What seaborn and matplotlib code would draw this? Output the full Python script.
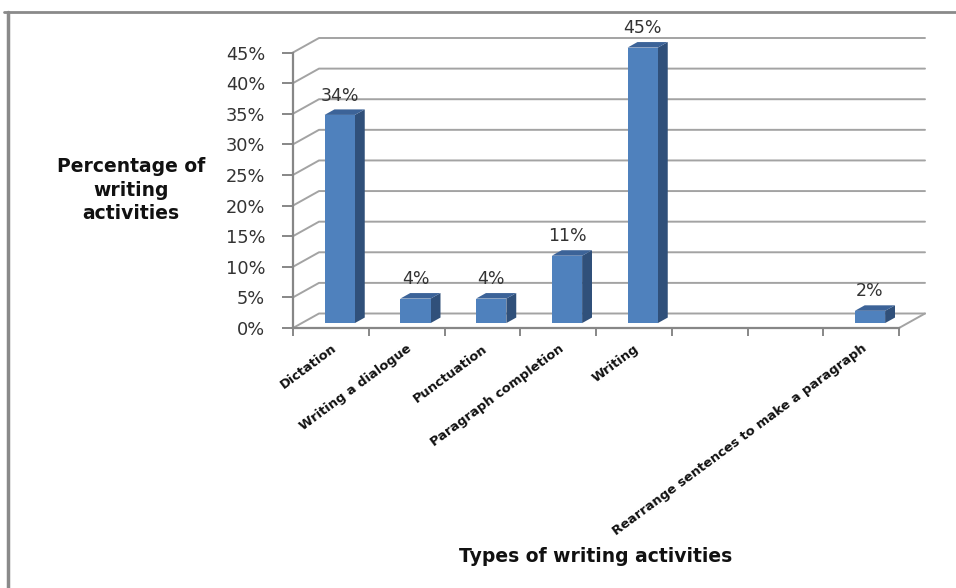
import numpy as np
import pandas as pd
import matplotlib
matplotlib.use("Agg")
import matplotlib.pyplot as plt
import seaborn as sns
from matplotlib.patches import Polygon
from matplotlib.lines import Line2D

# ---- data ----
categories = ["Dictation", "Writing a dialogue", "Punctuation", "Paragraph completion",
              "Writing", "", "", "Rearrange sentences to make a paragraph"]
values = [34, 4, 4, 11, 45, None, None, 2]
y_ticks = [0, 5, 10, 15, 20, 25, 30, 35, 40, 45]
y_tick_labels = [f"{t}%" for t in y_ticks]
x_title = "Types of writing activities"
y_title = "Percentage of\nwriting\nactivities"

# ---- style ----
sns.set_theme(style="white")
plt.rcParams["font.family"] = ["DejaVu Sans"]

FRONT = "#4F81BD"
SIDE = "#30507A"
TOP = "#3C6398"
AXIS_C = "#878787"
GRID_C = "#A3A3A3"

W, H = 956, 588
fig = plt.figure(figsize=(W / 100, H / 100), dpi=100)
fig.patch.set_facecolor("white")
ax = fig.add_axes([293 / W, (H - 328) / H, 606 / W, 275.5 / H])

n = len(categories)
df = pd.DataFrame({"pos": np.arange(n), "value": values}).dropna()

sns.barplot(data=df, x="pos", y="value", native_scale=True, width=0.4,
            color=FRONT, saturation=1, linewidth=0, ax=ax, zorder=4)
bars = list(ax.patches)

ax.set_xlim(-0.5, n - 0.5)
ax.set_ylim(0, 45)
ax.set_xlabel("")
ax.set_ylabel("")

# depth of the 3-D wall in data units
px_x = 606 / n
px_y = 275.5 / 45
DX = 26 / px_x
DY = 14.5 / px_y
F_FRONT = 0.34   # where bar front sits in depth
F_DEPTH = 0.38   # bar depth

# back wall gridlines with slanted connectors
for t in y_ticks:
    ax.plot([-0.5, -0.5 + DX, n - 0.5 + DX], [t, t + DY, t + DY],
            color=GRID_C, lw=1.4, clip_on=False, zorder=1)
ax.plot([n - 0.5, n - 0.5 + DX], [0, DY], color=GRID_C, lw=1.4,
        clip_on=False, zorder=1)

# 3-D bars
for p, v in zip(bars, df["value"]):
    x0 = p.get_x() + F_FRONT * DX
    b = F_FRONT * DY
    w = p.get_width()
    p.set_x(x0)
    p.set_y(b)
    p.set_clip_on(False)
    x1 = x0 + w
    t = b + v
    dx, dy = F_DEPTH * DX, F_DEPTH * DY
    ax.add_patch(Polygon([(x1, b), (x1, t), (x1 + dx, t + dy), (x1 + dx, b + dy)],
                         closed=True, facecolor=SIDE, edgecolor="none",
                         zorder=3, clip_on=False))
    ax.add_patch(Polygon([(x0, t), (x1, t), (x1 + dx, t + dy), (x0 + dx, t + dy)],
                         closed=True, facecolor=TOP, edgecolor="none",
                         zorder=5, clip_on=False))
    ax.annotate(f"{v:g}%", (x0 + w / 2, t + dy), xytext=(0, 10),
                textcoords="offset points", ha="center", va="center",
                fontsize=12.5, color="#333333", annotation_clip=False)

# spines & ticks
for s in ["top", "right"]:
    ax.spines[s].set_visible(False)
for s in ["left", "bottom"]:
    ax.spines[s].set_color(AXIS_C)
    ax.spines[s].set_linewidth(1.6)
    ax.spines[s].set_zorder(2)

ax.set_yticks(y_ticks)
ax.set_yticklabels(y_tick_labels)
ax.tick_params(axis="y", direction="out", length=8, width=1.4, color=AXIS_C,
               pad=12, labelsize=12.8, labelcolor="#333333", left=True)

ax.set_xticks(np.arange(-0.5, n, 1.0))
ax.set_xticklabels([])
ax.set_xticks(np.arange(n), minor=True)
ax.set_xticklabels(categories, minor=True, rotation=36.5, ha="right", va="top",
                   rotation_mode="anchor", fontfamily="DejaVu Sans",
                   fontweight="bold", fontsize=9.4, color="#111111")
ax.tick_params(axis="x", which="major", direction="out", length=6, width=1.4,
               color=AXIS_C, bottom=True)
ax.tick_params(axis="x", which="minor", length=0, pad=10, bottom=True)
ax.grid(False)

# axis titles
fig.text(131 / W, 1 - 190 / H, y_title, ha="center", va="center",
         fontfamily="DejaVu Sans", fontweight="bold", fontsize=13.5,
         linespacing=1.3, color="#111111")
fig.text(596 / W, 1 - 557 / H, x_title, ha="center", va="center",
         fontfamily="DejaVu Sans", fontweight="bold", fontsize=13.5,
         color="#111111")

# outer frame (top and left visible)
fig.add_artist(Line2D([4 / W, 1], [1 - 12 / H, 1 - 12 / H], color="#8A8A8A", lw=2))
fig.add_artist(Line2D([8 / W, 8 / W], [0, 1 - 12 / H], color="#8A8A8A", lw=2.5))

fig.savefig("out.png", dpi=100, facecolor="white")
